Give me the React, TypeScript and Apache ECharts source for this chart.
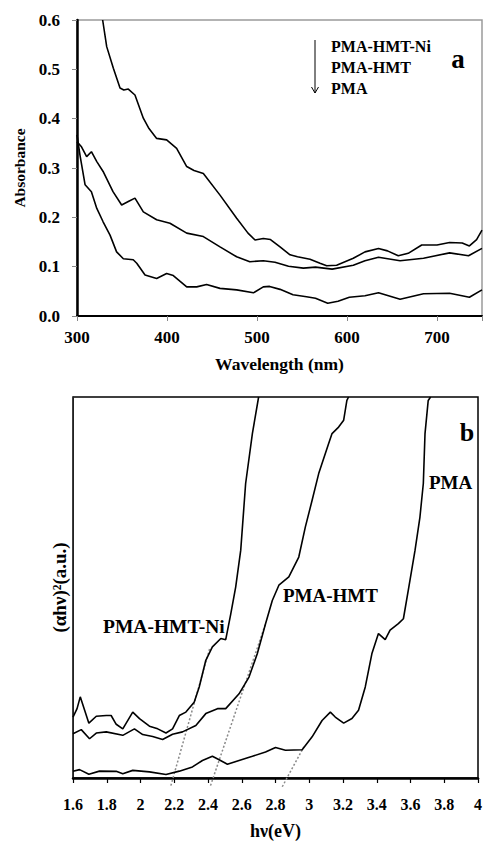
import React, { useEffect, useRef } from "react";
import * as echarts from "echarts";

const FONT = "'Liberation Serif', 'Times New Roman', serif";

// ---------- Panel a: absorbance vs wavelength ----------
const wlNi = [328.5, 333, 340.4, 347.8, 352, 357, 364.4, 373.7, 380, 388.5, 399.6, 410.7, 421.9, 430, 440.4, 458.9, 477.4, 490, 497.8, 507, 515, 525.6, 536.7, 545, 558.9, 570, 577.4, 588.5, 607, 620, 635, 645, 657, 668, 683, 700, 714, 728, 736, 744, 750];
const absNi = [0.6, 0.546, 0.502, 0.462, 0.458, 0.46, 0.448, 0.401, 0.38, 0.36, 0.357, 0.34, 0.303, 0.295, 0.289, 0.245, 0.198, 0.168, 0.154, 0.157, 0.155, 0.14, 0.124, 0.12, 0.115, 0.107, 0.102, 0.103, 0.117, 0.13, 0.137, 0.132, 0.122, 0.127, 0.144, 0.144, 0.149, 0.148, 0.142, 0.155, 0.174];

const wlHmt = [300, 305, 310.7, 316, 322, 329, 340, 349.6, 357, 364.4, 373.7, 388.5, 403.3, 421.9, 440.4, 458.9, 477.4, 492, 507, 520, 535, 551.5, 565, 583.5, 607, 620, 635, 659, 685, 714, 735, 750];
const absHmt = [0.353, 0.343, 0.323, 0.333, 0.313, 0.293, 0.252, 0.225, 0.232, 0.239, 0.211, 0.195, 0.188, 0.168, 0.161, 0.14, 0.12, 0.11, 0.112, 0.109, 0.101, 0.097, 0.099, 0.095, 0.103, 0.112, 0.119, 0.112, 0.117, 0.128, 0.122, 0.137];

const wlPma = [300, 303.3, 309, 316, 322, 329, 336.7, 344, 351.5, 362.5, 366.4, 375.6, 388.5, 399.6, 407, 421.9, 433, 444, 458.9, 477.4, 496, 507, 514, 525.6, 540, 555, 565, 578.6, 590, 602.6, 620, 635, 659, 685, 714, 736, 750];
const absPma = [0.367, 0.326, 0.266, 0.252, 0.218, 0.191, 0.164, 0.13, 0.116, 0.114, 0.107, 0.083, 0.076, 0.086, 0.082, 0.059, 0.059, 0.064, 0.056, 0.053, 0.047, 0.059, 0.06, 0.054, 0.043, 0.039, 0.036, 0.026, 0.03, 0.038, 0.041, 0.047, 0.034, 0.045, 0.046, 0.038, 0.053];

const legendNames = ["PMA-HMT-Ni", "PMA-HMT", "PMA"];

// ---------- Panel b: Tauc plot ----------
const eNi = [1.6, 1.624, 1.643, 1.669, 1.694, 1.738, 1.797, 1.826, 1.856, 1.895, 1.954, 1.994, 2.053, 2.102, 2.151, 2.19, 2.23, 2.269, 2.318, 2.348, 2.387, 2.426, 2.476, 2.505, 2.535, 2.564, 2.594, 2.623, 2.663, 2.7];
const tNi = [16.0, 18.2, 21.3, 17.8, 14.4, 16.2, 16.4, 16.4, 14.1, 12.9, 17.3, 15.6, 13.6, 12.9, 11.8, 12.9, 16.4, 17.3, 19.9, 23.9, 30.9, 34.4, 36.6, 36.3, 43.1, 50.1, 59.8, 77.3, 90.4, 100];

const eHmt = [1.6, 1.649, 1.698, 1.738, 1.797, 1.895, 1.964, 2.013, 2.072, 2.131, 2.19, 2.249, 2.328, 2.387, 2.456, 2.505, 2.584, 2.643, 2.692, 2.741, 2.781, 2.82, 2.879, 2.938, 2.977, 3.017, 3.056, 3.115, 3.135, 3.174, 3.204, 3.223, 3.233];
const tHmt = [11.6, 12.7, 10.3, 11.8, 12.1, 11.2, 12.9, 11.4, 10.9, 10.1, 11.5, 12.1, 13.8, 16.9, 18.2, 18.2, 22.1, 26.5, 32.6, 40.5, 46.6, 50.6, 52.8, 58.0, 65.9, 72.9, 79.9, 87.8, 90.4, 92.1, 93.9, 99.1, 100];

const ePma = [1.6, 1.639, 1.694, 1.757, 1.856, 1.895, 1.954, 2.053, 2.151, 2.23, 2.308, 2.367, 2.426, 2.466, 2.515, 2.584, 2.663, 2.741, 2.8, 2.859, 2.958, 3.017, 3.076, 3.125, 3.154, 3.204, 3.253, 3.292, 3.332, 3.371, 3.41, 3.45, 3.479, 3.528, 3.558, 3.587, 3.627, 3.656, 3.676, 3.686, 3.705, 3.719];
const tPma = [1.75, 2.2, 1.0, 1.8, 1.75, 1.1, 2.0, 1.6, 0.9, 1.8, 2.9, 4.6, 5.7, 4.8, 3.6, 4.6, 5.7, 6.8, 8.0, 7.3, 7.4, 10.8, 15.1, 17.3, 16.0, 14.4, 15.6, 17.8, 23.9, 32.6, 37.9, 36.3, 38.8, 40.5, 41.8, 49.3, 59.8, 68.5, 77.3, 90.4, 99.1, 100];

// extrapolated tangent lines (band-gap estimates)
const tanNiE = [2.18, 2.41];
const tanNiT = [-2, 34];
const tanHmtE = [2.415, 2.741];
const tanHmtT = [-2, 40.5];
const tanPmaE = [2.84, 2.968];
const tanPmaT = [-2.3, 8.2];

const pairs = (xs: number[], ys: number[]) => xs.map((x, i) => [x, ys[i]]);

export default function App() {
  const ref = useRef<HTMLDivElement>(null);
  useEffect(() => {
    const chart = echarts.init(ref.current!, null, { renderer: "svg" });
    const curve = (name: string, xs: number[], ys: number[], idx: number) => ({
      name,
      type: "line",
      xAxisIndex: idx,
      yAxisIndex: idx,
      data: pairs(xs, ys),
      symbol: "none",
      showSymbol: false,
      silent: true,
      z: 3,
      lineStyle: { color: "#000", width: 1.6 },
    });
    const tangent = (name: string, xs: number[], ys: number[]) => ({
      name,
      type: "line",
      xAxisIndex: 1,
      yAxisIndex: 1,
      data: pairs(xs, ys),
      symbol: "none",
      showSymbol: false,
      silent: true,
      clip: false,
      z: 2,
      lineStyle: { color: "#8a8a8a", width: 1.5, type: [2, 2] },
    });
    const tickFont = { fontFamily: FONT, fontWeight: "bold", color: "#000" };
    chart.setOption({
      animation: false,
      backgroundColor: "#fff",
      grid: [
        { left: 77, top: 20, width: 406, height: 296, show: true, borderColor: "#9a9a9a", borderWidth: 1.5, backgroundColor: "transparent" },
        { left: 73, top: 397, width: 408, height: 381, show: true, borderColor: "#000", borderWidth: 1.5, backgroundColor: "transparent" },
      ],
      xAxis: [
        {
          gridIndex: 0, type: "value", min: 300, max: 750, interval: 100,
          name: "Wavelength (nm)", nameLocation: "middle", nameGap: 39,
          nameTextStyle: { ...tickFont, fontSize: 17.5 },
          axisLine: { show: true, lineStyle: { color: "#000", width: 2 } },
          axisTick: { show: true, inside: false, length: 5, lineStyle: { color: "#888", width: 1 } },
          axisLabel: { ...tickFont, fontSize: 17, margin: 13, formatter: (v: number) => (v > 700 ? "" : String(v)) },
          splitLine: { show: false },
        },
        {
          gridIndex: 1, type: "value", min: 1.6, max: 4, interval: 0.2,
          name: "hν(eV)", nameLocation: "middle", nameGap: 44,
          nameTextStyle: { ...tickFont, fontSize: 18 },
          axisLine: { show: true, lineStyle: { color: "#000", width: 2.5 } },
          axisTick: { show: true, inside: false, length: 5, lineStyle: { color: "#000", width: 1.2 } },
          axisLabel: { ...tickFont, fontSize: 16, margin: 18, formatter: (v: number) => String(Math.round(v * 10) / 10) },
          splitLine: { show: false },
        },
      ],
      yAxis: [
        {
          gridIndex: 0, type: "value", min: 0, max: 0.6, interval: 0.1,
          name: "Absorbance", nameLocation: "middle", nameGap: 50, nameRotate: 90,
          nameTextStyle: { ...tickFont, fontSize: 15.5 },
          axisLine: { show: true, lineStyle: { color: "#000", width: 2.5 } },
          axisTick: { show: true, inside: false, length: 5, lineStyle: { color: "#888", width: 1 } },
          axisLabel: { ...tickFont, fontSize: 17, margin: 17, formatter: (v: number) => v.toFixed(1) },
          splitLine: { show: false },
        },
        {
          gridIndex: 1, type: "value", min: 0, max: 100,
          name: "(αhν)²(a.u.)", nameLocation: "middle", nameGap: 4, nameRotate: 90,
          nameTextStyle: { ...tickFont, fontSize: 19 },
          axisLine: { show: true, lineStyle: { color: "#222", width: 1 } },
          axisTick: { show: false },
          axisLabel: { show: false },
          splitLine: { show: false },
        },
      ],
      series: [
        curve("PMA-HMT-Ni (a)", wlNi, absNi, 0),
        curve("PMA-HMT (a)", wlHmt, absHmt, 0),
        curve("PMA (a)", wlPma, absPma, 0),
        tangent("tangent PMA-HMT-Ni", tanNiE, tanNiT),
        tangent("tangent PMA-HMT", tanHmtE, tanHmtT),
        tangent("tangent PMA", tanPmaE, tanPmaT),
        curve("PMA-HMT-Ni (b)", eNi, tNi, 1),
        curve("PMA-HMT (b)", eHmt, tHmt, 1),
        curve("PMA (b)", ePma, tPma, 1),
      ],
      graphic: [
        // legend of panel a
        { type: "line", shape: { x1: 315, y1: 40, x2: 315, y2: 93 }, style: { stroke: "#000", lineWidth: 1 } },
        { type: "polyline", shape: { points: [[311.5, 87], [315, 93], [318.5, 87]] }, style: { stroke: "#000", lineWidth: 1, fill: null } },
        ...legendNames.map((t, i) => ({
          type: "text", x: 331, y: 46 + i * 21,
          style: { text: t, font: `bold 16px ${FONT}`, fill: "#000", textAlign: "left", textVerticalAlign: "middle" },
        })),
        { type: "text", x: 458, y: 59, style: { text: "a", font: `bold 27px ${FONT}`, fill: "#000", textAlign: "center", textVerticalAlign: "middle" } },
        { type: "text", x: 467, y: 432, style: { text: "b", font: `bold 26px ${FONT}`, fill: "#000", textAlign: "center", textVerticalAlign: "middle" } },
        // curve labels of panel b
        { type: "text", x: 103, y: 626, style: { text: legendNames[0], font: `bold 19.5px ${FONT}`, fill: "#000", textAlign: "left", textVerticalAlign: "middle" } },
        { type: "text", x: 283, y: 595, style: { text: legendNames[1], font: `bold 19px ${FONT}`, fill: "#000", textAlign: "left", textVerticalAlign: "middle" } },
        { type: "text", x: 429, y: 482, style: { text: legendNames[2], font: `bold 19px ${FONT}`, fill: "#000", textAlign: "left", textVerticalAlign: "middle" } },
      ],
    });
    return () => chart.dispose();
  }, []);
  return (
    <div
      ref={ref}
      style={{ position: "fixed", left: 0, top: 0, width: 485, height: 846, background: "#fff" }}
    />
  );
}
